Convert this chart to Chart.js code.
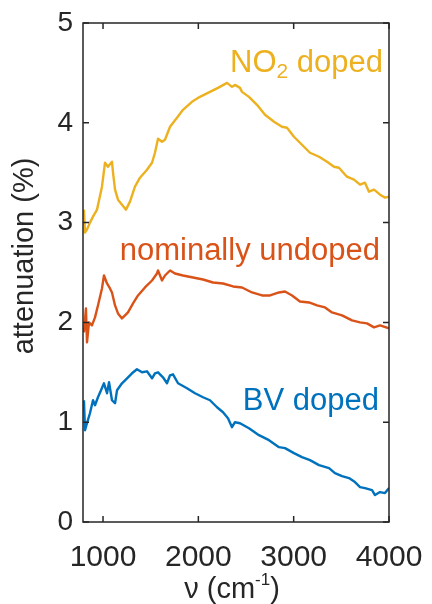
<!DOCTYPE html>
<html lang="en">
<head>
    <meta charset="UTF-8">
    <title>Attenuation spectra</title>
    <script src="https://cdn.jsdelivr.net/npm/chart.js"></script>
    <style>
        body { margin: 0; background: #fff; }
        canvas { display: block; }
    </style>
</head>
<body>
    <canvas id="specChart" width="432" height="604"></canvas>
    <script>
        // values
        const no2Nu = [800, 811, 832, 863, 895, 937, 989, 1021, 1052, 1094, 1105, 1126, 1157, 1199, 1241, 1283, 1335, 1388, 1461, 1514, 1545, 1577, 1619, 1650, 1703, 1776, 1839, 1933, 2017, 2122, 2206, 2301, 2353, 2384, 2437, 2458, 2531, 2615, 2699, 2794, 2877, 2930, 3003, 3087, 3171, 3266, 3350, 3423, 3475, 3559, 3633, 3696, 3748, 3790, 3843, 3906, 3958, 4000];
        const no2Att = [3.13, 2.90, 2.93, 3.00, 3.06, 3.13, 3.36, 3.60, 3.56, 3.61, 3.50, 3.33, 3.23, 3.18, 3.13, 3.21, 3.36, 3.45, 3.53, 3.60, 3.70, 3.84, 3.81, 3.83, 3.96, 4.05, 4.13, 4.21, 4.26, 4.31, 4.35, 4.40, 4.36, 4.38, 4.35, 4.31, 4.26, 4.18, 4.08, 4.01, 3.96, 3.95, 3.86, 3.78, 3.70, 3.66, 3.61, 3.56, 3.55, 3.46, 3.43, 3.38, 3.40, 3.31, 3.33, 3.28, 3.25, 3.26];

        const undopedNu = [800, 821, 832, 853, 884, 916, 947, 989, 1010, 1042, 1073, 1094, 1126, 1157, 1199, 1231, 1262, 1315, 1367, 1440, 1514, 1566, 1577, 1619, 1650, 1703, 1755, 1839, 1944, 2049, 2154, 2259, 2364, 2458, 2563, 2668, 2752, 2846, 2909, 2983, 3066, 3161, 3245, 3329, 3402, 3507, 3612, 3696, 3769, 3843, 3906, 4000];
        const undopedAtt = [1.90, 2.14, 1.80, 2.00, 1.97, 2.05, 2.17, 2.34, 2.47, 2.39, 2.34, 2.30, 2.17, 2.09, 2.04, 2.07, 2.10, 2.19, 2.27, 2.35, 2.42, 2.49, 2.52, 2.42, 2.47, 2.52, 2.49, 2.47, 2.45, 2.43, 2.40, 2.39, 2.36, 2.35, 2.30, 2.27, 2.27, 2.30, 2.31, 2.27, 2.21, 2.20, 2.17, 2.15, 2.10, 2.07, 2.02, 2.00, 1.99, 1.95, 1.97, 1.94];

        const bvNu = [800, 811, 832, 863, 895, 916, 947, 979, 1010, 1042, 1063, 1094, 1126, 1147, 1199, 1252, 1304, 1356, 1409, 1461, 1514, 1545, 1577, 1629, 1671, 1703, 1734, 1787, 1881, 1965, 2049, 2122, 2196, 2259, 2311, 2353, 2384, 2437, 2531, 2636, 2741, 2846, 2909, 3003, 3087, 3171, 3266, 3371, 3433, 3507, 3580, 3643, 3696, 3748, 3822, 3853, 3906, 3958, 4000];
        const bvAtt = [1.22, 0.92, 0.99, 1.09, 1.22, 1.17, 1.25, 1.32, 1.39, 1.29, 1.40, 1.22, 1.19, 1.32, 1.39, 1.44, 1.49, 1.53, 1.50, 1.51, 1.44, 1.49, 1.50, 1.45, 1.39, 1.47, 1.48, 1.39, 1.34, 1.29, 1.25, 1.22, 1.15, 1.10, 1.04, 0.95, 1.00, 0.99, 0.94, 0.87, 0.82, 0.75, 0.74, 0.69, 0.65, 0.62, 0.57, 0.54, 0.49, 0.46, 0.44, 0.40, 0.35, 0.34, 0.32, 0.27, 0.30, 0.29, 0.34];

        const xTicks = [1000, 2000, 3000, 4000];
        const yTicks = [0, 1, 2, 3, 4, 5];

        const colors = { no2: '#EDB120', undoped: '#D95319', bv: '#0072BD' };
        const axisColor = '#262626';
        const fontFamily = '"Liberation Sans", Arial, sans-serif';

        function toPoints(xs, ys) {
            return xs.map((x, i) => ({ x: x, y: ys[i] }));
        }

        // box, inward ticks, axis titles and curve labels
        const decorations = {
            id: 'decorations',
            afterDraw(chart) {
                const { ctx, chartArea: a, scales: { x, y } } = chart;
                ctx.save();
                ctx.strokeStyle = axisColor;
                ctx.lineWidth = 1.5;
                ctx.strokeRect(a.left, a.top, a.right - a.left, a.bottom - a.top);
                const tl = 6;
                ctx.beginPath();
                xTicks.forEach(v => {
                    const px = x.getPixelForValue(v);
                    ctx.moveTo(px, a.bottom); ctx.lineTo(px, a.bottom - tl);
                    ctx.moveTo(px, a.top); ctx.lineTo(px, a.top + tl);
                });
                yTicks.forEach(v => {
                    const py = y.getPixelForValue(v);
                    ctx.moveTo(a.left, py); ctx.lineTo(a.left + tl, py);
                    ctx.moveTo(a.right, py); ctx.lineTo(a.right - tl, py);
                });
                ctx.stroke();

                // y title
                ctx.fillStyle = axisColor;
                ctx.font = '29px ' + fontFamily;
                ctx.textAlign = 'center';
                ctx.textBaseline = 'middle';
                ctx.translate(25, 256);
                ctx.rotate(-Math.PI / 2);
                ctx.fillText('attenuation (%)', 0, 0);
                ctx.restore();

                // x title with superscript
                ctx.save();
                ctx.fillStyle = axisColor;
                ctx.textBaseline = 'alphabetic';
                const big = '29px ' + fontFamily, small = '17px ' + fontFamily;
                ctx.font = big;
                const p1 = 'ν (cm', p3 = ')';
                const w1 = ctx.measureText(p1).width, w3 = ctx.measureText(p3).width;
                ctx.font = small;
                const w2 = ctx.measureText('-1').width;
                let tx = (a.left + a.right) / 2 - 4 - (w1 + w2 + w3) / 2;
                const ty = 598;
                ctx.font = big; ctx.fillText(p1, tx, ty); tx += w1;
                ctx.font = small; ctx.fillText('-1', tx, ty - 13); tx += w2;
                ctx.font = big; ctx.fillText(p3, tx, ty);
                ctx.restore();

                // curve labels
                ctx.save();
                ctx.textBaseline = 'alphabetic';
                ctx.textAlign = 'left';
                const lf = '31px ' + fontFamily, sf = '21px ' + fontFamily;
                // NO2 doped
                ctx.fillStyle = colors.no2;
                ctx.font = lf;
                const nA = ctx.measureText('NO').width, nC = ctx.measureText(' doped').width;
                ctx.font = sf;
                const nB = ctx.measureText('2').width;
                let lx = x.getPixelForValue(3937) - (nA + nB + nC);
                const ly = y.getPixelForValue(4.51);
                ctx.font = lf; ctx.fillText('NO', lx, ly); lx += nA;
                ctx.font = sf; ctx.fillText('2', lx, ly + 6); lx += nB;
                ctx.font = lf; ctx.fillText(' doped', lx, ly);
                // others
                ctx.textAlign = 'right';
                ctx.fillStyle = colors.undoped;
                ctx.fillText('nominally undoped', x.getPixelForValue(3905), y.getPixelForValue(2.625));
                ctx.fillStyle = colors.bv;
                ctx.fillText('BV doped', x.getPixelForValue(3895), y.getPixelForValue(1.12));
                ctx.restore();
            }
        };

        const ctx = document.getElementById('specChart').getContext('2d');
        new Chart(ctx, {
            type: 'line',
            data: {
                datasets: [
                    { label: 'NO2 doped', data: toPoints(no2Nu, no2Att), borderColor: colors.no2 },
                    { label: 'nominally undoped', data: toPoints(undopedNu, undopedAtt), borderColor: colors.undoped },
                    { label: 'BV doped', data: toPoints(bvNu, bvAtt), borderColor: colors.bv }
                ]
            },
            options: {
                responsive: false,
                animation: false,
                elements: {
                    line: { borderWidth: 2.4, tension: 0, fill: false, borderJoinStyle: 'round' },
                    point: { radius: 0 }
                },
                layout: { padding: { top: 23, right: 43, left: 0, bottom: 0 } },
                plugins: { legend: { display: false }, tooltip: { enabled: false } },
                scales: {
                    x: {
                        type: 'linear',
                        min: 790,
                        max: 4000,
                        grid: { display: false, drawTicks: false },
                        border: { display: false },
                        afterBuildTicks: s => { s.ticks = xTicks.map(v => ({ value: v })); },
                        afterFit: s => {
                            s.height = 82;
                            s.paddingLeft = 0;
                            s.paddingRight = 0;
                        },
                        ticks: {
                            color: axisColor,
                            font: { size: 30, family: fontFamily },
                            padding: 18,
                            maxRotation: 0,
                            callback: v => String(v)
                        }
                    },
                    y: {
                        min: 0,
                        max: 5,
                        grid: { display: false, drawTicks: false },
                        border: { display: false },
                        afterBuildTicks: s => { s.ticks = yTicks.map(v => ({ value: v })); },
                        afterFit: s => {
                            s.width = 83;
                            s.paddingTop = 0;
                            s.paddingBottom = 0;
                        },
                        ticks: { color: axisColor, font: { size: 28, family: fontFamily }, padding: 10 }
                    }
                }
            },
            plugins: [decorations]
        });
    </script>
</body>
</html>
